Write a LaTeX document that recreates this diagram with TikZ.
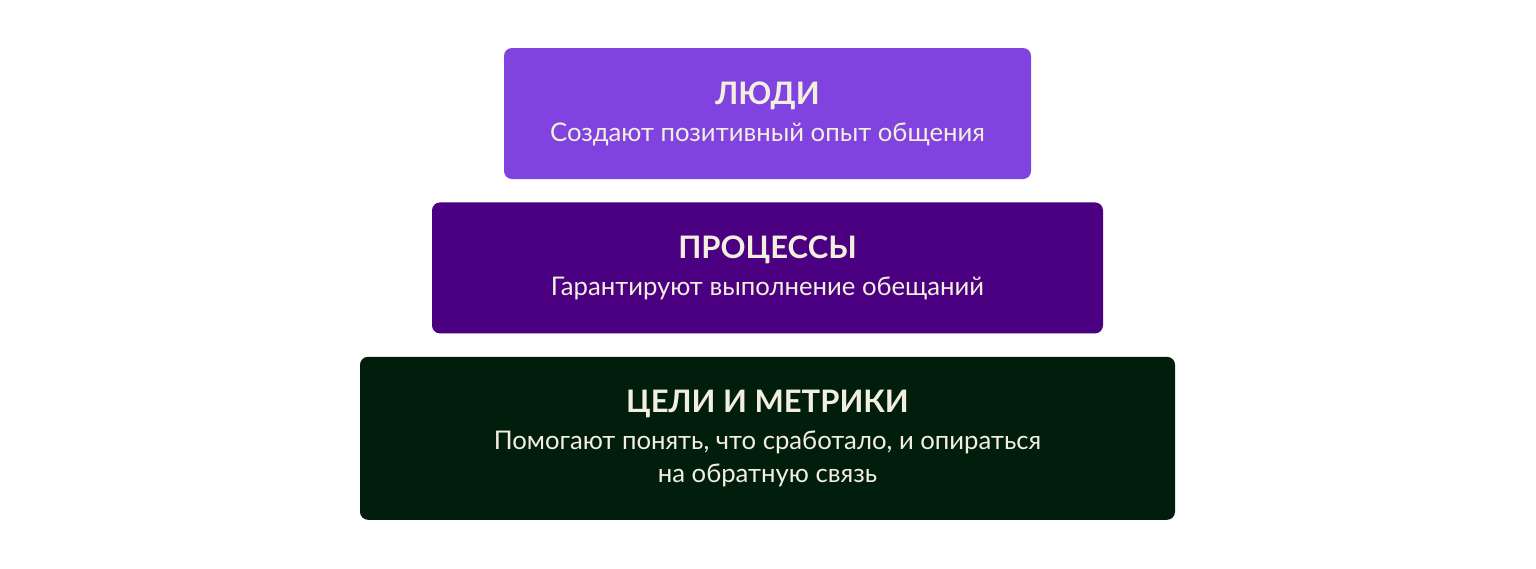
\documentclass[tikz,border=0pt]{standalone}
\usepackage{fontspec}
\setmainfont{Lato}
\newfontfamily\headfont{Lato}
\usetikzlibrary{positioning}
\definecolor{peoplecol}{HTML}{8043E0}
\definecolor{processcol}{HTML}{4B0082}
\definecolor{goalcol}{HTML}{011E0C}
\definecolor{textcol}{HTML}{F3EFDF}
\newcommand{\Head}[1]{{\headfont\bfseries\fontsize{31}{37}\selectfont #1}}
\tikzset{
    layer/.style={rounded corners=8pt, inner sep=0pt, align=center,
      text=textcol, font=\fontsize{25.7}{33}\selectfont},
}

\begin{document}
\begin{tikzpicture}[x=1pt, y=1pt]
    \tikzset{node distance=23pt}
    \useasboundingbox (0,0) rectangle (1536,-568);

    \node[layer, fill=peoplecol, minimum width=527pt, minimum height=131pt] (people) at (767.5,-113.5)
      {\Head{ЛЮДИ}\\[4pt] Создают позитивный опыт общения};
    \node[layer, fill=processcol, minimum width=671pt, minimum height=131pt, below=of people] (process)
      {\Head{ПРОЦЕССЫ}\\[4pt] Гарантируют выполнение обещаний};
    \node[layer, fill=goalcol, minimum width=815pt, minimum height=163pt, below=of process] (goals)
      {\Head{ЦЕЛИ И МЕТРИКИ}\\[4pt] Помогают понять, что сработало, и опираться\\ на обратную связь};

  \end{tikzpicture}
\end{document}
